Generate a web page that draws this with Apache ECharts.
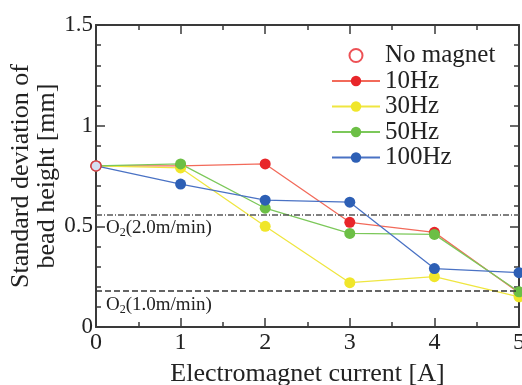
<!DOCTYPE html>
<html>
<head>
<meta charset="utf-8">
<script src="https://cdn.jsdelivr.net/npm/echarts@6/dist/echarts.min.js"></script>
<style>
html, body { margin: 0; padding: 0; background: #fff; }
#main { width: 522px; height: 385px; }
</style>
</head>
<body>
<div id="main"></div>
<script>
// electromagnet current [A]
var current = [0, 1, 2, 3, 4, 5]
var noMagnet = [0.8]
var hz10 = [0.8, 0.8, 0.81, 0.52, 0.47, 0.17]
var hz30 = [0.8, 0.79, 0.5, 0.22, 0.25, 0.15]
var hz50 = [0.8, 0.81, 0.59, 0.465, 0.46, 0.175]
var hz100 = [0.8, 0.71, 0.63, 0.62, 0.29, 0.27]
// reference levels without magnet
var o2Fast = 0.56
var o2Slow = 0.185
var yTicks = [0, 0.5, 1, 1.5]

var font = 'Liberation Serif'
var axisColor = '#3a3a3a'

function pairs(ys) {
  return ys.map(function (y, i) { return [current[i], y] })
}

function lineSeries(name, ys, lineColor, dotColor) {
  return {
    name: name,
    type: 'line',
    data: pairs(ys),
    symbol: 'circle',
    symbolSize: 11,
    lineStyle: { color: lineColor, width: 1.3 },
    itemStyle: { color: dotColor },
    z: 3
  }
}

// box axis helper: same ticks on all four sides
function boxTicks() {
  return {
    axisLine: { show: true, onZero: false, lineStyle: { color: axisColor, width: 2 } },
    axisTick: { show: true, inside: true, length: 9, lineStyle: { color: axisColor, width: 1.5 } },
    splitLine: { show: false }
  }
}

var o2Label = function (txt) {
  return {
    show: true,
    position: 'insideStartBottom',
    distance: [10, 3],
    formatter: '{a|O}{s|2}{a|' + txt + '}',
    rich: {
      a: { fontFamily: font, fontSize: 19, color: '#222' },
      s: { fontFamily: font, fontSize: 12, color: '#222', padding: [10, 0, 0, 0] }
    }
  }
}

var myChart = echarts.init(document.getElementById('main'))

var xBase = boxTicks()
var yBase = boxTicks()

myChart.setOption({
  animation: false,
  grid: { left: 96, right: 3, top: 25, bottom: 58, outerBoundsMode: 'none' },
  legend: {
    orient: 'vertical',
    left: 331,
    top: 43,
    padding: 0,
    itemWidth: 48,
    itemHeight: 13,
    itemGap: 0.5,
    textStyle: { fontFamily: font, fontSize: 25, color: '#222' },
    data: ['No magnet', '10Hz', '30Hz', '50Hz', '100Hz']
  },
  xAxis: [
    Object.assign({}, xBase, {
      type: 'value',
      min: 0,
      max: 5,
      interval: 1,
      name: 'Electromagnet current [A]',
      nameLocation: 'middle',
      nameGap: 34,
      nameTextStyle: { fontFamily: font, fontSize: 26, color: '#222' },
      minorTick: { show: true, splitNumber: 2, length: 5, lineStyle: { color: axisColor, width: 1.5 } },
      axisLabel: { fontFamily: font, fontSize: 24, color: '#222', margin: 4 }
    }),
    Object.assign({}, xBase, {
      type: 'value',
      position: 'top',
      min: 0,
      max: 5,
      interval: 1,
      minorTick: { show: true, splitNumber: 2, length: 5, lineStyle: { color: axisColor, width: 1.5 } },
      axisLabel: { show: false }
    })
  ],
  yAxis: [
    Object.assign({}, yBase, {
      type: 'value',
      min: 0,
      max: 1.5,
      interval: 0.5,
      name: 'Standard deviation of\nbead height [mm]',
      nameLocation: 'middle',
      nameGap: 36,
      nameMoveOverlap: false,
      nameRotate: 90,
      nameTextStyle: { fontFamily: font, fontSize: 26, color: '#222', lineHeight: 26 },
      minorTick: { show: true, splitNumber: 5, length: 5, lineStyle: { color: axisColor, width: 1.5 } },
      axisLabel: {
        fontFamily: font, fontSize: 23, color: '#222', margin: 3,
        formatter: function (v) { return yTicks.indexOf(v) >= 0 ? String(v) : '' }
      }
    }),
    Object.assign({}, yBase, {
      type: 'value',
      position: 'right',
      min: 0,
      max: 1.5,
      interval: 0.5,
      minorTick: { show: true, splitNumber: 5, length: 5, lineStyle: { color: axisColor, width: 1.5 } },
      axisLabel: { show: false }
    })
  ],
  series: [
    {
      name: 'Reference',
      type: 'line',
      data: [],
      markLine: {
        silent: true,
        symbol: 'none',
        data: [
          {
            yAxis: o2Fast,
            lineStyle: { color: '#555', type: [6, 2, 1, 2], width: 1.5 },
            label: o2Label('(2.0m/min)')
          },
          {
            yAxis: o2Slow,
            lineStyle: { color: '#333', type: [6, 3], width: 1.5 },
            label: o2Label('(1.0m/min)')
          }
        ]
      }
    },
    lineSeries('10Hz', hz10, '#f26a5a', '#e8262a'),
    lineSeries('30Hz', hz30, '#efe640', '#f0e62a'),
    lineSeries('50Hz', hz50, '#7cc85a', '#6cbf45'),
    lineSeries('100Hz', hz100, '#4a72c4', '#2d5fb5'),
    {
      name: 'No magnet',
      type: 'scatter',
      data: pairs(noMagnet),
      symbol: 'circle',
      symbolSize: 10,
      itemStyle: { color: '#fff', borderColor: '#e8262a', borderWidth: 1.5 },
      z: 5
    }
  ]
})
</script>
</body>
</html>
